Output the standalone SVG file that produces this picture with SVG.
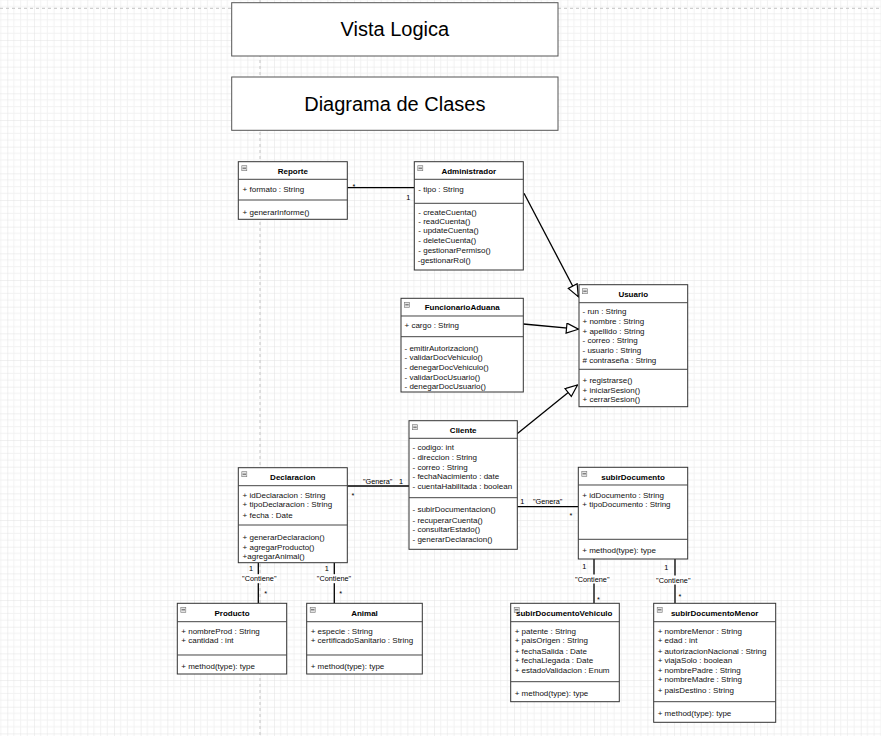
<svg xmlns="http://www.w3.org/2000/svg" width="881" height="736" viewBox="0 0 881 736">
<style>
.box{fill:#fff;stroke:#333;stroke-width:1}
.sep{stroke:#444;stroke-width:1}
.ic{fill:#e4e4e4;stroke:#777;stroke-width:0.6}
.icl{stroke:#333;stroke-width:0.8}
.t{font-family:"Liberation Sans",Arial,sans-serif;font-size:8px;font-weight:bold;text-anchor:middle;fill:#000}
.m{font-family:"Liberation Sans",Arial,sans-serif;font-size:8px;fill:#111}
.big{font-family:"Liberation Sans",Arial,sans-serif;font-size:20px;text-anchor:middle;fill:#000}
.lb{font-family:"Liberation Sans",Arial,sans-serif;font-size:7.3px;text-anchor:middle;fill:#000}
.c{stroke:#000;stroke-width:1.3;fill:none}
.frame{fill:#fff;stroke:#555;stroke-width:1}
</style>
<defs>
<pattern id="grid" patternUnits="userSpaceOnUse" x="7.3" y="13.3" width="26.67" height="26.67">
<path d="M6.67 0V26.67M13.33 0V26.67M20 0V26.67M0 6.67H26.67M0 13.33H26.67M0 20H26.67" stroke="#f2f2f2" stroke-width="1" fill="none"/>
<path d="M0 0V26.67M0 0H26.67" stroke="#e2e2e2" stroke-width="1" fill="none"/>
</pattern>
<marker id="tri" markerUnits="userSpaceOnUse" markerWidth="14" markerHeight="12" refX="13" refY="5.5" orient="auto">
<path d="M1,0.5 L13,5.5 L1,10.5 Z" fill="#fff" stroke="#000" stroke-width="1.2"/>
</marker>
</defs>
<rect width="881" height="736" fill="#fff"/>
<rect width="881" height="736" fill="url(#grid)"/>
<line x1="0" y1="8.3" x2="881" y2="8.3" stroke="#c4c4c4" stroke-dasharray="3,3"/>
<line x1="260" y1="0" x2="260" y2="736" stroke="#c4c4c4" stroke-dasharray="3,3"/>

<g id="vista-logica">
<rect class="frame" x="231.7" y="2.7" width="326.3" height="53.3"/>
<text class="big" x="394.8" y="36.3">Vista Logica</text>
</g>
<g id="diagrama-clases">
<rect class="frame" x="231.7" y="77" width="326.3" height="53.3"/>
<text class="big" x="394.8" y="110.5">Diagrama de Clases</text>
</g>

<g id="connectors">
<line class="c" x1="347.3" y1="187.7" x2="414.3" y2="187.7"/>
<text class="lb" x="354" y="189">*</text>
<text class="lb" x="408.3" y="199.5">1</text>
<line class="c" x1="524" y1="193.3" x2="578.3" y2="296.7" marker-end="url(#tri)"/>
<line class="c" x1="523.3" y1="324" x2="578.5" y2="329.2" marker-end="url(#tri)"/>
<line class="c" x1="515" y1="435.5" x2="577.5" y2="385" marker-end="url(#tri)"/>
<line class="c" x1="347.3" y1="486" x2="409" y2="486"/>
<text class="lb" x="377.7" y="483.8">"Genera"</text>
<text class="lb" x="401" y="483.6">1</text>
<text class="lb" x="353" y="497.5">*</text>
<line class="c" x1="517.3" y1="506.7" x2="578.3" y2="506.7"/>
<text class="lb" x="522.3" y="504.3">1</text>
<text class="lb" x="547.7" y="504.3">"Genera"</text>
<text class="lb" x="571" y="518">*</text>
<line class="c" x1="258.3" y1="562.7" x2="258.3" y2="603.3"/>
<text class="lb" x="251" y="571">1</text>
<rect x="241.5" y="574.2" width="35.6" height="9" fill="#fff"/>
<text class="lb" x="259.3" y="581.3">"Contiene"</text>
<text class="lb" x="265.7" y="596.3">*</text>
<line class="c" x1="334.3" y1="562.7" x2="334.3" y2="603.3"/>
<text class="lb" x="326.7" y="571">1</text>
<rect x="316.2" y="574.2" width="35.6" height="9" fill="#fff"/>
<text class="lb" x="334" y="581.3">"Contiene"</text>
<text class="lb" x="340.7" y="596.3">*</text>
<line class="c" x1="594" y1="559" x2="594" y2="603.3"/>
<text class="lb" x="584.3" y="569.3">1</text>
<rect x="574.5" y="574.5" width="35.6" height="9" fill="#fff"/>
<text class="lb" x="592.3" y="581.6">"Contiene"</text>
<text class="lb" x="598.3" y="602.3">*</text>
<line class="c" x1="675" y1="559" x2="675" y2="603.3"/>
<text class="lb" x="666.3" y="570.3">1</text>
<rect x="655.5" y="575.5" width="35.6" height="9" fill="#fff"/>
<text class="lb" x="673.3" y="582.6">"Contiene"</text>
<text class="lb" x="680" y="598.6">*</text>
</g>

<g id="reporte" transform="translate(238.3,161.7)">
<rect class="box" width="109" height="57.6"/>
<line class="sep" x1="0" y1="17.6" x2="109" y2="17.6"/>
<line class="sep" x1="0" y1="38.3" x2="109" y2="38.3"/>
<rect class="ic" x="3.5" y="4" width="5" height="5"/><line class="icl" x1="4.3" y1="6.5" x2="7.7" y2="6.5"/>
<text class="t" x="54.5" y="12.3">Reporte</text>
<text class="m" x="4.3" y="30.3">+ formato : String</text>
<text class="m" x="4.3" y="53">+ generarInforme()</text>
</g>

<g id="administrador" transform="translate(414.3,161.7)">
<rect class="box" width="109" height="108.3"/>
<line class="sep" x1="0" y1="17.6" x2="109" y2="17.6"/>
<line class="sep" x1="0" y1="41.6" x2="109" y2="41.6"/>
<rect class="ic" x="3.5" y="4" width="5" height="5"/><line class="icl" x1="4.3" y1="6.5" x2="7.7" y2="6.5"/>
<text class="t" x="54.5" y="12.3">Administrador</text>
<text class="m" x="4" y="30">- tipo : String</text>
<text class="m" x="4" y="53.3">- createCuenta()</text>
<text class="m" x="4" y="62.3">- readCuenta()</text>
<text class="m" x="4" y="71.7">- updateCuenta()</text>
<text class="m" x="4" y="81">- deleteCuenta()</text>
<text class="m" x="4" y="91.5">- gestionarPermiso()</text>
<text class="m" x="3.5" y="101.3">-gestionarRol()</text>
</g>

<g id="usuario" transform="translate(579,284.7)">
<rect class="box" width="108.7" height="122"/>
<line class="sep" x1="0" y1="18" x2="108.7" y2="18"/>
<line class="sep" x1="0" y1="84.6" x2="108.7" y2="84.6"/>
<rect class="ic" x="3.5" y="4" width="5" height="5"/><line class="icl" x1="4.3" y1="6.5" x2="7.7" y2="6.5"/>
<text class="t" x="54.3" y="12.6">Usuario</text>
<text class="m" x="3.5" y="29.7">- run : String</text>
<text class="m" x="3.5" y="39.7">+ nombre : String</text>
<text class="m" x="3.5" y="49.7">+ apellido : String</text>
<text class="m" x="3.5" y="58.7">- correo : String</text>
<text class="m" x="3.5" y="68.3">- usuario : String</text>
<text class="m" x="3.5" y="78.3"># contraseña : String</text>
<text class="m" x="3.5" y="98">+ registrarse()</text>
<text class="m" x="3.5" y="108">+ iniciarSesion()</text>
<text class="m" x="3.5" y="117.7">+ cerrarSesion()</text>
</g>

<g id="funcionario-aduana" transform="translate(401,298.3)">
<rect class="box" width="122.3" height="93.7"/>
<line class="sep" x1="0" y1="17.7" x2="122.3" y2="17.7"/>
<line class="sep" x1="0" y1="38.4" x2="122.3" y2="38.4"/>
<rect class="ic" x="3.5" y="4" width="5" height="5"/><line class="icl" x1="4.3" y1="6.5" x2="7.7" y2="6.5"/>
<text class="t" x="61.2" y="12">FuncionarioAduana</text>
<text class="m" x="3.5" y="29.4">+ cargo : String</text>
<text class="m" x="3.5" y="52.7">- emitirAutorizacion()</text>
<text class="m" x="3.5" y="62.1">- validarDocVehiculo()</text>
<text class="m" x="3.5" y="71.7">- denegarDocVehiculo()</text>
<text class="m" x="3.5" y="81.4">- validarDocUsuario()</text>
<text class="m" x="3.5" y="91">- denegarDocUsuario()</text>
</g>

<g id="cliente" transform="translate(409,420.7)">
<rect class="box" width="108.3" height="128.6"/>
<line class="sep" x1="0" y1="17.6" x2="108.3" y2="17.6"/>
<line class="sep" x1="0" y1="77" x2="108.3" y2="77" stroke-width="1.6"/>
<rect class="ic" x="3.5" y="4" width="5" height="5"/><line class="icl" x1="4.3" y1="6.5" x2="7.7" y2="6.5"/>
<text class="t" x="54.2" y="12.3">Cliente</text>
<text class="m" x="3.5" y="29.3">- codigo: int</text>
<text class="m" x="3.5" y="39.3">- direccion : String</text>
<text class="m" x="3.5" y="49">- correo : String</text>
<text class="m" x="3.5" y="58.3">- fechaNacimiento : date</text>
<text class="m" x="3.5" y="68">- cuentaHabilitada : boolean</text>
<text class="m" x="3.5" y="91.3">- subirDocumentacion()</text>
<text class="m" x="3.5" y="102.3">- recuperarCuenta()</text>
<text class="m" x="3.5" y="111.3">- consultarEstado()</text>
<text class="m" x="3.5" y="121.7">- generarDeclaracion()</text>
</g>

<g id="declaracion" transform="translate(238.3,467.7)">
<rect class="box" width="109" height="95"/>
<line class="sep" x1="0" y1="18" x2="109" y2="18"/>
<line class="sep" x1="0" y1="57.3" x2="109" y2="57.3"/>
<rect class="ic" x="3.5" y="4" width="5" height="5"/><line class="icl" x1="4.3" y1="6.5" x2="7.7" y2="6.5"/>
<text class="t" x="54.5" y="12.3">Declaracion</text>
<text class="m" x="4.3" y="30.3">+ idDeclaracion : String</text>
<text class="m" x="4.3" y="39.3">+ tipoDeclaracion : String</text>
<text class="m" x="4.3" y="50">+ fecha : Date</text>
<text class="m" x="4.3" y="72">+ generarDeclaracion()</text>
<text class="m" x="4.3" y="82.3">+ agregarProducto()</text>
<text class="m" x="4.3" y="91">+agregarAnimal()</text>
</g>

<g id="subir-documento" transform="translate(578.3,467.3)">
<rect class="box" width="109.4" height="91.7"/>
<line class="sep" x1="0" y1="17.7" x2="109.4" y2="17.7"/>
<line class="sep" x1="0" y1="72" x2="109.4" y2="72"/>
<rect class="ic" x="3.5" y="4" width="5" height="5"/><line class="icl" x1="4.3" y1="6.5" x2="7.7" y2="6.5"/>
<text class="t" x="54.7" y="12.4">subirDocumento</text>
<text class="m" x="4" y="30.4">+ idDocumento : String</text>
<text class="m" x="4" y="39.7">+ tipoDocumento : String</text>
<text class="m" x="4" y="85.7">+ method(type): type</text>
</g>

<g id="producto" transform="translate(177.3,603.3)">
<rect class="box" width="109.4" height="70.7"/>
<line class="sep" x1="0" y1="18.4" x2="109.4" y2="18.4"/>
<line class="sep" x1="0" y1="51.7" x2="109.4" y2="51.7"/>
<rect class="ic" x="3.5" y="4" width="5" height="5"/><line class="icl" x1="4.3" y1="6.5" x2="7.7" y2="6.5"/>
<text class="t" x="54.7" y="12.4">Producto</text>
<text class="m" x="4" y="30.7">+ nombreProd : String</text>
<text class="m" x="4" y="39.7">+ cantidad : int</text>
<text class="m" x="4" y="66.1">+ method(type): type</text>
</g>

<g id="animal" transform="translate(306.7,603.3)">
<rect class="box" width="115.6" height="70.7"/>
<line class="sep" x1="0" y1="18.4" x2="115.6" y2="18.4"/>
<line class="sep" x1="0" y1="51.7" x2="115.6" y2="51.7"/>
<rect class="ic" x="3.5" y="4" width="5" height="5"/><line class="icl" x1="4.3" y1="6.5" x2="7.7" y2="6.5"/>
<text class="t" x="57.8" y="12.4">Animal</text>
<text class="m" x="4" y="30.7">+ especie : String</text>
<text class="m" x="4" y="39.7">+ certificadoSanitario : String</text>
<text class="m" x="4" y="66.1">+ method(type): type</text>
</g>

<g id="subir-documento-vehiculo" transform="translate(510.7,603.3)">
<rect class="box" width="108.6" height="98.4"/>
<line class="sep" x1="0" y1="18.4" x2="108.6" y2="18.4"/>
<line class="sep" x1="0" y1="78.4" x2="108.6" y2="78.4"/>
<rect class="ic" x="3.5" y="4" width="5" height="5"/><line class="icl" x1="4.3" y1="6.5" x2="7.7" y2="6.5"/>
<text class="t" x="53.5" y="13">subirDocumentoVehiculo</text>
<text class="m" x="4" y="30.7">+ patente : String</text>
<text class="m" x="4" y="39.7">+ paisOrigen : String</text>
<text class="m" x="4" y="50.4">+ fechaSalida : Date</text>
<text class="m" x="4" y="59.4">+ fechaLlegada : Date</text>
<text class="m" x="4" y="69.7">+ estadoValidacion : Enum</text>
<text class="m" x="4" y="92.7">+ method(type): type</text>
</g>

<g id="subir-documento-menor" transform="translate(653.7,603.3)">
<rect class="box" width="122" height="119"/>
<line class="sep" x1="0" y1="18.4" x2="122" y2="18.4"/>
<line class="sep" x1="0" y1="98.4" x2="122" y2="98.4"/>
<rect class="ic" x="3.5" y="4" width="5" height="5"/><line class="icl" x1="4.3" y1="6.5" x2="7.7" y2="6.5"/>
<text class="t" x="61" y="13">subirDocumentoMenor</text>
<text class="m" x="4" y="30.7">+ nombreMenor : String</text>
<text class="m" x="4" y="39.7">+ edad : int</text>
<text class="m" x="4" y="50.7">+ autorizacionNacional : String</text>
<text class="m" x="4" y="59.7">+ viajaSolo : boolean</text>
<text class="m" x="4" y="69.7">+ nombrePadre : String</text>
<text class="m" x="4" y="78.7">+ nombreMadre : String</text>
<text class="m" x="4" y="89.7">+ paisDestino : String</text>
<text class="m" x="4" y="112.7">+ method(type): type</text>
</g>
</svg>
